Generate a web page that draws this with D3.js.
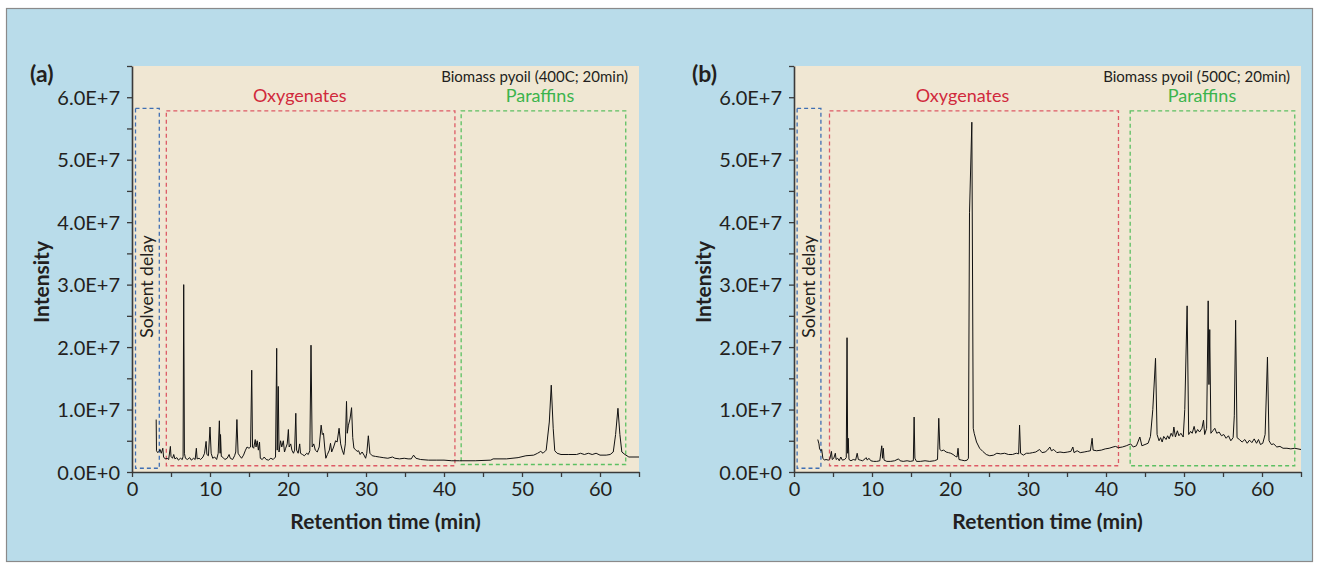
<!DOCTYPE html>
<html><head><meta charset="utf-8">
<script src="https://cdn.jsdelivr.net/npm/d3@7"></script>
<style>
html,body{margin:0;padding:0;background:#fff;}
svg{display:block;font-family:Lato,"Open Sans",sans-serif;}
</style></head>
<body><svg id="chart" width="1319" height="566"></svg>
<script>
// ---------- DATA ----------
const panelLabels = ["(a)", "(b)"];
const panelTitles = ["Biomass pyoil (400C; 20min)", "Biomass pyoil (500C; 20min)"];
const regionNames = ["Solvent delay", "Oxygenates", "Paraffins"];
const xTicks = [0, 5, 10, 15, 20, 25, 30, 35, 40, 45, 50, 55, 60, 65];
const yTicks = [0, 0.5, 1, 1.5, 2, 2.5, 3, 3.5, 4, 4.5, 5, 5.5, 6, 6.5]; // x 1E7
const xDomain = [0, 65];
const yDomain = [0, 6.5];
// region boxes [t0, t1, I0, I1] per panel (min, x1E7)
const boxesA = [[0.45, 3.5, 0.06, 5.82], [4.4, 41.4, 0.10, 5.78], [42.2, 63.3, 0.12, 5.78]];
const boxesB = [[0.4, 3.45, 0.06, 5.82], [4.55, 41.6, 0.10, 5.78], [43.1, 64.2, 0.10, 5.78]];
// region label positions [t, I]
const labelPosA = [[21.5, 5.9], [52.3, 5.9]];
const labelPosB = [[21.6, 5.9], [52.3, 5.9]];

// chromatogram (a): [retention time (min), intensity (x1E7)]
const traceA = [
[3.10,0.84],[3.14,0.34],[3.30,0.31],[3.45,0.33],[3.60,0.36],[3.75,0.30],[3.95,0.38],[4.05,0.24],[4.25,0.21],[4.50,0.22],
[4.70,0.20],[4.92,0.41],[5.00,0.25],[5.20,0.22],[5.35,0.28],[5.50,0.21],[5.75,0.23],[5.95,0.19],[6.20,0.22],[6.45,0.20],
[6.55,0.25],[6.63,3.00],[6.72,0.30],[6.85,0.22],[7.10,0.20],[7.40,0.23],[7.60,0.19],[7.90,0.22],[8.10,0.20],[8.25,0.38],
[8.35,0.21],[8.60,0.22],[8.80,0.20],[9.10,0.24],[9.30,0.30],[9.50,0.49],[9.60,0.28],[9.80,0.26],[10.00,0.72],[10.15,0.30],
[10.35,0.22],[10.60,0.24],[10.85,0.20],[11.05,0.30],[11.20,0.82],[11.30,0.30],[11.35,0.60],[11.45,0.25],[11.70,0.23],[11.90,0.20],
[12.20,0.22],[12.45,0.28],[12.60,0.22],[12.90,0.20],[13.15,0.26],[13.30,0.32],[13.45,0.84],[13.60,0.30],[13.80,0.26],[14.05,0.22],
[14.30,0.27],[14.55,0.35],[14.75,0.40],[15.00,0.38],[15.20,0.40],[15.35,1.63],[15.45,0.40],[15.60,0.38],[15.80,0.52],[15.90,0.40],
[16.05,0.50],[16.20,0.35],[16.35,0.48],[16.45,0.22],[16.70,0.20],[16.95,0.24],[17.20,0.20],[17.50,0.19],[17.80,0.22],[18.10,0.20],
[18.40,0.24],[18.55,1.98],[18.62,0.35],[18.75,1.37],[18.85,0.32],[19.05,0.50],[19.20,0.40],[19.40,0.50],[19.55,0.32],[19.70,0.38],
[19.90,0.45],[20.05,0.68],[20.15,0.40],[20.35,0.45],[20.50,0.35],[20.70,0.30],[20.85,0.35],[21.00,0.94],[21.10,0.35],[21.30,0.30],
[21.50,0.45],[21.60,0.30],[21.85,0.28],[22.10,0.26],[22.40,0.30],[22.60,0.28],[22.80,0.34],[22.95,2.03],[23.10,0.40],[23.30,0.45],
[23.50,0.35],[23.75,0.32],[24.00,0.40],[24.25,0.75],[24.40,0.60],[24.55,0.62],[24.70,0.40],[24.85,0.22],[25.05,0.28],[25.30,0.35],
[25.45,0.46],[25.60,0.32],[25.85,0.40],[26.10,0.50],[26.30,0.48],[26.55,0.70],[26.75,0.45],[26.95,0.35],[27.15,0.28],[27.35,0.45],
[27.50,1.13],[27.60,0.62],[27.75,0.75],[27.95,0.85],[28.15,1.03],[28.30,0.55],[28.45,0.38],[28.65,0.36],[28.85,0.33],[29.05,0.34],
[29.25,0.28],[29.50,0.32],[29.75,0.27],[29.95,0.22],[30.10,0.30],[30.30,0.58],[30.50,0.30],[30.80,0.26],[31.20,0.25],[31.70,0.24],
[32.20,0.23],[32.80,0.22],[33.40,0.24],[33.70,0.22],[34.30,0.21],[34.90,0.22],[35.40,0.21],[35.80,0.21],[36.10,0.27],[36.40,0.22],
[37.00,0.20],[38.00,0.19],[39.00,0.19],[40.00,0.19],[41.00,0.18],[42.00,0.18],[44.00,0.18],[46.00,0.19],[46.30,0.21],[48.00,0.21],
[49.50,0.23],[50.50,0.26],[51.50,0.27],[52.00,0.30],[52.40,0.33],[52.70,0.30],[53.10,0.35],[53.50,0.80],[53.75,1.39],[54.00,0.70],
[54.20,0.34],[54.50,0.30],[55.00,0.28],[56.00,0.28],[57.00,0.28],[57.50,0.30],[58.00,0.28],[58.50,0.30],[59.00,0.28],[59.50,0.30],
[60.00,0.27],[60.80,0.27],[61.30,0.28],[61.70,0.32],[62.00,0.60],[62.30,1.02],[62.55,0.60],[62.80,0.32],[63.20,0.28],[63.70,0.24],
[65.00,0.24]
];

// chromatogram (b)
const traceB = [
[3.05,0.52],[3.20,0.45],[3.28,0.37],[3.45,0.34],[3.55,0.36],[3.70,0.22],[3.90,0.19],[4.10,0.20],[4.40,0.19],[4.60,0.21],
[4.80,0.33],[4.90,0.20],[5.10,0.22],[5.30,0.30],[5.40,0.20],[5.60,0.22],[5.80,0.18],[6.00,0.24],[6.20,0.19],[6.50,0.20],
[6.70,0.23],[6.80,2.15],[6.88,0.30],[6.95,0.54],[7.05,0.20],[7.30,0.18],[7.60,0.20],[7.90,0.19],[8.10,0.30],[8.25,0.20],
[8.50,0.19],[8.80,0.18],[9.10,0.21],[9.25,0.23],[9.40,0.19],[9.60,0.22],[9.85,0.18],[10.20,0.17],[10.60,0.17],[11.00,0.18],
[11.25,0.42],[11.35,0.22],[11.45,0.38],[11.55,0.19],[11.90,0.17],[12.40,0.17],[12.90,0.18],[13.40,0.21],[13.60,0.18],[14.00,0.17],
[14.50,0.18],[14.90,0.17],[15.30,0.18],[15.40,0.88],[15.50,0.22],[15.70,0.17],[16.20,0.17],[16.80,0.18],[17.40,0.17],[18.00,0.18],
[18.40,0.20],[18.56,0.86],[18.70,0.36],[18.90,0.34],[19.20,0.35],[19.50,0.32],[19.80,0.31],[20.10,0.30],[20.40,0.28],[20.70,0.25],
[20.90,0.24],[21.03,0.38],[21.15,0.20],[21.50,0.19],[21.90,0.18],[22.20,0.19],[22.36,0.22],[22.50,4.15],[22.80,5.60],[22.98,0.70],
[23.10,0.62],[23.40,0.48],[23.80,0.38],[24.20,0.33],[24.65,0.28],[25.10,0.26],[25.60,0.27],[26.00,0.30],[26.50,0.29],[27.00,0.30],
[27.50,0.28],[28.00,0.28],[28.50,0.30],[28.80,0.29],[28.92,0.75],[29.05,0.30],[29.40,0.27],[29.80,0.30],[30.20,0.30],[30.60,0.31],
[31.00,0.32],[31.48,0.36],[31.80,0.31],[32.20,0.32],[32.50,0.35],[32.80,0.40],[33.00,0.34],[33.30,0.36],[33.70,0.31],[34.10,0.32],
[34.60,0.31],[35.10,0.32],[35.50,0.33],[35.75,0.40],[35.90,0.31],[36.30,0.34],[36.70,0.31],[37.20,0.32],[37.60,0.33],[38.00,0.34],
[38.22,0.54],[38.35,0.35],[38.80,0.34],[39.40,0.35],[39.90,0.37],[40.40,0.38],[40.90,0.40],[41.20,0.41],[41.60,0.39],[42.10,0.40],
[42.60,0.42],[43.16,0.45],[43.50,0.40],[43.90,0.42],[44.34,0.56],[44.60,0.42],[45.00,0.44],[45.40,0.46],[45.70,0.57],[46.00,1.00],
[46.35,1.82],[46.55,0.60],[46.80,0.50],[47.00,0.55],[47.20,0.48],[47.40,0.57],[47.70,0.52],[47.90,0.58],[48.10,0.53],[48.35,0.62],
[48.55,0.57],[48.70,0.72],[48.90,0.56],[49.15,0.66],[49.35,0.58],[49.60,0.62],[49.90,0.56],[50.10,1.00],[50.40,2.66],[50.60,0.60],
[50.85,0.65],[51.05,0.62],[51.30,0.73],[51.50,0.62],[51.75,0.68],[52.00,0.64],[52.30,0.70],[52.50,0.83],[52.65,0.60],[52.90,0.70],
[53.10,2.74],[53.20,1.40],[53.30,2.28],[53.45,0.62],[53.70,0.66],[53.95,0.70],[54.20,0.62],[54.50,0.64],[54.80,0.58],[55.10,0.60],
[55.40,0.54],[55.70,0.58],[56.00,0.50],[56.30,0.55],[56.45,0.90],[56.62,2.43],[56.80,0.55],[57.10,0.52],[57.45,0.48],[57.80,0.52],
[58.10,0.46],[58.40,0.51],[58.70,0.47],[59.00,0.53],[59.30,0.46],[59.55,0.52],[59.80,0.44],[60.10,0.46],[60.40,0.60],[60.70,1.84],
[60.90,0.50],[61.20,0.44],[61.50,0.45],[61.90,0.40],[62.30,0.41],[62.70,0.38],[63.20,0.38],[63.70,0.37],[64.20,0.38],[65.00,0.36]
];

// ---------- DRAW ----------
const svg = d3.select("#chart");
svg.append("rect").attr("x", 6.5).attr("y", 8.5).attr("width", 1306).attr("height", 553)
  .attr("fill", "#b9dcea").attr("stroke", "#8a8a8a").attr("stroke-width", 1.2);

const textColor = "#231f20";
const boxColors = ["#3f6fb3", "#dd5a66", "#5cc062"];
const labelColors = ["#d02a3c", "#3cb44c"];

const panels = [
  {left: 132, right: 639, trace: traceA, boxes: boxesA, labelPos: labelPosA, tag: panelLabels[0], title: panelTitles[0], tagX: 30, yTitleX: 49},
  {left: 794, right: 1301, trace: traceB, boxes: boxesB, labelPos: labelPosB, tag: panelLabels[1], title: panelTitles[1], tagX: 692, yTitleX: 711}
];
const plotTop = 66, plotBottom = 472;

const fmtY = d => d === 0 ? "0.0E+0" : (Number.isInteger(d) ? d.toFixed(1) + "E+7" : "");
const fmtX = d => d % 10 === 0 ? String(d) : "";

panels.forEach(p => {
  const x = d3.scaleLinear().domain(xDomain).range([p.left, p.right]);
  const y = d3.scaleLinear().domain(yDomain).range([plotBottom, plotTop]);
  const g = svg.append("g");

  g.append("rect").attr("x", p.left).attr("y", plotTop).attr("width", p.right - p.left).attr("height", plotBottom - plotTop)
    .attr("fill", "#f0e7d3");

  // region boxes
  p.boxes.forEach((b, i) => {
    g.append("rect")
      .attr("x", x(b[0])).attr("y", y(b[3]))
      .attr("width", x(b[1]) - x(b[0])).attr("height", y(b[2]) - y(b[3]))
      .attr("fill", "none").attr("stroke", boxColors[i]).attr("stroke-width", 1.3)
      .attr("stroke-dasharray", "4,3");
  });

  // trace
  const line = d3.line().x(d => x(d[0])).y(d => y(d[1]));
  g.append("path").datum(p.trace).attr("d", line)
    .attr("fill", "none").attr("stroke", "#111").attr("stroke-width", 1).attr("stroke-linejoin", "miter");

  // axes
  const ax = g.append("g").attr("transform", `translate(0,${plotBottom})`)
    .call(d3.axisBottom(x).tickValues(xTicks).tickFormat(fmtX).tickSize(5).tickSizeOuter(0).tickPadding(5));
  const ay = g.append("g").attr("transform", `translate(${p.left},0)`)
    .call(d3.axisLeft(y).tickValues(yTicks).tickFormat(fmtY).tickSize(5).tickSizeOuter(0).tickPadding(7));
  [ax, ay].forEach(a => {
    a.select(".domain").attr("stroke", "#3a3a3a").attr("stroke-width", 1.6);
    a.selectAll(".tick line").attr("stroke", "#3a3a3a").attr("stroke-width", 1.3);
    a.selectAll(".tick text").attr("fill", textColor).attr("font-size", 20).attr("font-family", "Lato, sans-serif");
  });
  ay.selectAll(".tick text").attr("dy", "0.36em");

  // axis titles
  g.append("text").attr("x", (p.left + p.right) / 2).attr("y", 529).attr("text-anchor", "middle")
    .attr("font-size", 21).attr("font-weight", "bold").attr("fill", textColor).text("Retention time (min)");
  g.append("text").attr("transform", `translate(${p.yTitleX},282) rotate(-90)`).attr("text-anchor", "middle")
    .attr("font-size", 21).attr("font-weight", "bold").attr("fill", textColor).text("Intensity");

  // panel tag
  g.append("text").attr("x", p.tagX).attr("y", 82).attr("font-size", 23).attr("font-weight", "bold")
    .attr("fill", textColor).text(p.tag);

  // sample title
  g.append("text").attr("x", p.right - 11).attr("y", 82).attr("text-anchor", "end")
    .attr("font-size", 15).attr("fill", textColor).text(p.title);

  // region labels
  g.append("text").attr("x", x(p.labelPos[0][0])).attr("y", 102).attr("text-anchor", "middle")
    .attr("font-size", 18).attr("fill", labelColors[0]).text(regionNames[1]);
  g.append("text").attr("x", x(p.labelPos[1][0])).attr("y", 102).attr("text-anchor", "middle")
    .attr("font-size", 18).attr("fill", labelColors[1]).text(regionNames[2]);
  const sx = (x(p.boxes[0][0]) + x(p.boxes[0][1])) / 2;
  g.append("text").attr("transform", `translate(${sx + 5.5},286.5) rotate(-90)`).attr("text-anchor", "middle")
    .attr("font-size", 17.5).attr("fill", textColor).text(regionNames[0]);
});
</script></body></html>
